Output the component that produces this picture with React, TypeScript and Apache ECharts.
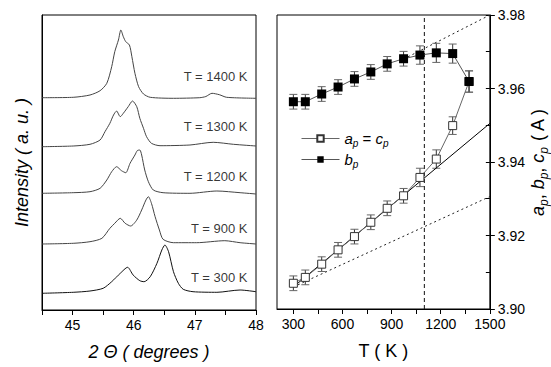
import React, { useEffect, useRef } from "react";
import * as echarts from "echarts";

const FONT = "'Liberation Sans', Arial, sans-serif";

// ---- Left panel: XRD profiles (2θ in degrees, intensity in a.u., curves offset) ----
const curveNames = ["T = 1400 K", "T = 1300 K", "T = 1200 K", "T = 900 K", "T = 300 K"];
const curve1400 = [[44.5,212.3],[45.01,212.7],[45.285,215],[45.45,219.3],[45.56,226.7],[45.64,243.3],[45.69,258.3],[45.75,270],[45.79,280],[45.83,273.3],[45.87,268.3],[45.93,265],[45.97,253.3],[46.02,236.7],[46.08,223.3],[46.16,216],[46.27,212.7],[46.65,211.7],[47.08,212.3],[47.18,213.5],[47.28,216.7],[47.4,215.3],[47.52,212.7],[48,211.7]];
const curve1300 = [[44.5,163.3],[45.01,164],[45.285,165.7],[45.45,170],[45.53,178.3],[45.61,186.7],[45.67,195],[45.72,199],[45.78,193.3],[45.83,196.7],[45.91,203.3],[45.98,209],[46.05,203.3],[46.10,191.7],[46.16,181.7],[46.21,173.3],[46.29,166.7],[46.43,164.3],[46.92,165],[47.30,167.7],[47.63,165.7],[48,164]];
const curve1200 = [[44.5,116.7],[45.01,117.3],[45.285,118.3],[45.45,121.7],[45.56,130],[45.64,138.3],[45.72,143.3],[45.80,139.3],[45.87,137.3],[45.94,146.7],[46.02,155],[46.06,159.5],[46.10,160],[46.13,155],[46.18,140],[46.24,128.3],[46.32,120],[46.48,117.3],[46.92,116.7],[47.36,119],[47.74,117.3],[48,116]];
const curve900 = [[44.5,66],[45.01,66.7],[45.285,68.3],[45.48,71.7],[45.61,81.7],[45.69,86.7],[45.78,91.7],[45.86,86.7],[45.95,84],[46.05,90],[46.13,100],[46.20,110],[46.24,113.3],[46.29,106.7],[46.35,93.3],[46.42,80],[46.48,70.7],[46.65,67.3],[47.03,67.3],[47.49,69.3],[47.74,67.3],[48,66]];
const curve300 = [[44.5,16.7],[45.01,17.7],[45.285,19],[45.50,21.7],[45.64,28.3],[45.78,36.7],[45.90,42.7],[45.99,35],[46.10,29.3],[46.17,28.3],[46.27,33.3],[46.38,46.7],[46.46,60],[46.51,65],[46.57,58.3],[46.65,38.3],[46.73,26.7],[46.81,20.7],[46.97,18.3],[47.36,17.7],[47.74,20],[48,18.3]];
const curves = [curve1400, curve1300, curve1200, curve900, curve300];
const curveColors = ["#444", "#444", "#444", "#444", "#111"];
const labelTheta = 47.86;
const labelIntensity = [234, 184, 134, 82, 33];

// ---- Right panel: lattice parameters vs T ----
const temps = [300, 373, 473, 573, 673, 773, 873, 973, 1073, 1173, 1273, 1373];
const ap = [3.9070, 3.9086, 3.9122, 3.9161, 3.9197, 3.9236, 3.9274, 3.9308, 3.9358, 3.9408, 3.9499, 3.9619];
const apErr = [0.002, 0.002, 0.002, 0.002, 0.002, 0.002, 0.002, 0.002, 0.0025, 0.0025, 0.0024, 0.0029];
const bp = [3.9564, 3.9564, 3.9585, 3.9604, 3.9626, 3.9645, 3.9667, 3.9681, 3.9691, 3.9697, 3.9695, 3.9619];
const bpErr = [0.002, 0.002, 0.002, 0.002, 0.002, 0.002, 0.002, 0.002, 0.0025, 0.0026, 0.0026, 0.0029];
const fitLine = [[300, 3.906], [1500, 3.9505]];
const lowerDotted = [[300, 3.906], [1500, 3.9306]];
const upperDotted = [[973, 3.968], [1500, 3.98]];
const transitionT = 1100;
const tTicks = [300, 450, 600, 750, 900, 1050, 1200, 1350, 1500];
const tLabels = [300, 600, 900, 1200, 1500];

const errorBarSeries = (data: number[][], name: string) => ({
  type: "custom",
  name: name + "err",
  xAxisIndex: 1,
  yAxisIndex: 1,
  z: 1,
  silent: true,
  data,
  renderItem: (params: any, api: any) => {
    const x = api.value(0), y = api.value(1), e = api.value(2);
    const top = api.coord([x, y + e]);
    const bot = api.coord([x, y - e]);
    const hw = 4;
    return {
      type: "group",
      children: [
        { type: "line", shape: { x1: top[0], y1: top[1], x2: bot[0], y2: bot[1] }, style: { stroke: "#333", lineWidth: 1 } },
        { type: "line", shape: { x1: top[0] - hw, y1: top[1], x2: top[0] + hw, y2: top[1] }, style: { stroke: "#666", lineWidth: 1 } },
        { type: "line", shape: { x1: bot[0] - hw, y1: bot[1], x2: bot[0] + hw, y2: bot[1] }, style: { stroke: "#666", lineWidth: 1 } },
      ],
    };
  },
});

const subRich = {
  i: { fontFamily: FONT, fontStyle: "italic", fontSize: 18, lineHeight: 24, verticalAlign: "middle", color: "#000" },
  s: { fontFamily: FONT, fontStyle: "italic", fontSize: 12, lineHeight: 12, verticalAlign: "bottom", color: "#000" },
  n: { fontFamily: FONT, fontSize: 18, lineHeight: 24, verticalAlign: "middle", color: "#000" },
};
const legendRich = {
  i: { fontFamily: FONT, fontStyle: "italic", fontSize: 15, lineHeight: 20, verticalAlign: "middle", color: "#000" },
  s: { fontFamily: FONT, fontStyle: "italic", fontSize: 10, lineHeight: 10, verticalAlign: "bottom", color: "#000" },
  n: { fontFamily: FONT, fontSize: 15, lineHeight: 20, verticalAlign: "middle", color: "#000" },
};

export default function App() {
  const ref = useRef<HTMLDivElement>(null);
  useEffect(() => {
    if (!ref.current) return;
    const chart = echarts.init(ref.current, undefined, { renderer: "svg" });
    const axisLine = { show: true, lineStyle: { color: "#000", width: 1 } };
    const legendCommon = {
      left: 296, orient: "vertical", itemWidth: 38, itemHeight: 8, itemGap: 2,
      textStyle: { rich: legendRich }, selectedMode: false,
      lineStyle: { width: 1 },
    };
    const option: any = {
      animation: false,
      backgroundColor: "#fff",
      textStyle: { fontFamily: FONT },
      grid: [
        { left: 42, top: 15, width: 214, height: 295, show: true, borderColor: "#000", borderWidth: 1, backgroundColor: "transparent" },
        { left: 277, top: 15, width: 214, height: 294, show: true, borderColor: "#000", borderWidth: 1, backgroundColor: "transparent" },
      ],
      legend: [
        { ...legendCommon, data: ["ap"], top: 126, formatter: () => "{i|a}{s|p}{n| = }{i|c}{s|p}" },
        { ...legendCommon, data: ["bp"], top: 147, formatter: () => "{i|b}{s|p}" },
      ],
      xAxis: [
        {
          gridIndex: 0, type: "value", min: 44.5, max: 48, interval: 0.5,
          axisLine, splitLine: { show: false },
          axisTick: { show: true, inside: false, length: 5, lineStyle: { color: "#000" } },
          axisLabel: { fontSize: 14, color: "#000", margin: 8, fontFamily: FONT, formatter: (v: number) => (Number.isInteger(v) ? String(v) : "") },
          name: "2 Θ ( degrees )", nameLocation: "middle", nameGap: 33,
          nameTextStyle: { fontSize: 18, fontStyle: "italic", color: "#000", fontFamily: FONT },
        },
        {
          gridIndex: 1, type: "value", min: 200, max: 1500,
          axisLine, splitLine: { show: false },
          axisTick: { show: true, inside: false, length: 5, lineStyle: { color: "#000" }, customValues: tTicks },
          axisLabel: { fontSize: 14, color: "#000", margin: 8, fontFamily: FONT, customValues: tLabels, formatter: (v: number) => String(v) },
          name: "T ( K )", nameLocation: "middle", nameGap: 33,
          nameTextStyle: { fontSize: 18, color: "#000", fontFamily: FONT },
        },
      ],
      yAxis: [
        {
          gridIndex: 0, type: "value", min: 0, max: 295,
          axisLine, axisTick: { show: false }, axisLabel: { show: false }, splitLine: { show: false },
          name: "Intensity ( a. u. )", nameLocation: "middle", nameGap: 11,
          nameTextStyle: { fontSize: 18, fontStyle: "italic", color: "#000", fontFamily: FONT },
        },
        {
          gridIndex: 1, type: "value", position: "right", min: 3.9, max: 3.98, interval: 0.02,
          axisLine, splitLine: { show: false },
          axisTick: { show: true, inside: false, length: 5, lineStyle: { color: "#000" } },
          axisLabel: { fontSize: 14, color: "#000", margin: 8, fontFamily: FONT, formatter: (v: number) => v.toFixed(2) },
          name: "{i|a}{s|p}{n|, }{i|b}{s|p}{n|, }{i|c}{s|p}{n| ( A )}", nameLocation: "middle", nameGap: 30,
          nameTextStyle: { rich: subRich },
        },
        {
          gridIndex: 1, type: "value", position: "right", min: 3.9, max: 3.98, interval: 0.01,
          axisLine: { show: false }, splitLine: { show: false }, axisLabel: { show: false },
          axisTick: { show: true, inside: true, length: 4, lineStyle: { color: "#000" } },
        },
      ],
      series: [
        ...curves.map((c, i) => ({
          type: "line", name: curveNames[i], xAxisIndex: 0, yAxisIndex: 0, data: c,
          showSymbol: false, symbol: "none", smooth: 0.25, silent: true,
          lineStyle: { color: curveColors[i], width: 1 },
        })),
        {
          type: "scatter", name: "labels", xAxisIndex: 0, yAxisIndex: 0, symbolSize: 0, silent: true,
          data: labelIntensity.map((v, i) => ({ value: [labelTheta, v], name: curveNames[i] })),
          label: { show: true, position: "left", distance: 0, formatter: (p: any) => p.name, fontSize: 13, color: "#000", fontFamily: FONT },
        },
        { type: "line", name: "fit", xAxisIndex: 1, yAxisIndex: 1, data: fitLine, symbol: "none", silent: true, z: 2, lineStyle: { color: "#000", width: 1 } },
        { type: "line", name: "dot1", xAxisIndex: 1, yAxisIndex: 1, data: lowerDotted, symbol: "none", silent: true, z: 2, lineStyle: { color: "#222", width: 1, type: [2, 3] } },
        { type: "line", name: "dot2", xAxisIndex: 1, yAxisIndex: 1, data: upperDotted, symbol: "none", silent: true, z: 2, lineStyle: { color: "#222", width: 1, type: [2, 3] } },
        { type: "line", name: "vline", xAxisIndex: 1, yAxisIndex: 1, data: [[transitionT, 3.9], [transitionT, 3.98]], symbol: "none", silent: true, z: 2, lineStyle: { color: "#111", width: 1, type: [4, 3] } },
        errorBarSeries(temps.map((t, i) => [t, ap[i], apErr[i]]), "ap"),
        errorBarSeries(temps.map((t, i) => [t, bp[i], bpErr[i]]), "bp"),
        {
          type: "line", name: "ap", xAxisIndex: 1, yAxisIndex: 1, data: temps.map((t, i) => [t, ap[i]]),
          symbol: "rect", symbolSize: 8, showSymbol: true, z: 3,
          lineStyle: { color: "#666", width: 1 },
          itemStyle: { color: "#fff", borderColor: "#333", borderWidth: 1 },
        },
        {
          type: "line", name: "bp", xAxisIndex: 1, yAxisIndex: 1, data: temps.map((t, i) => [t, bp[i]]),
          symbol: "rect", symbolSize: 9, showSymbol: true, z: 4,
          lineStyle: { color: "#555", width: 1 },
          itemStyle: { color: "#000", borderColor: "#000", borderWidth: 0 },
        },
      ],
    };
    chart.setOption(option);
    return () => chart.dispose();
  }, []);
  return <div ref={ref} style={{ position: "fixed", left: 0, top: 0, width: 551, height: 367, background: "#fff" }} />;
}
